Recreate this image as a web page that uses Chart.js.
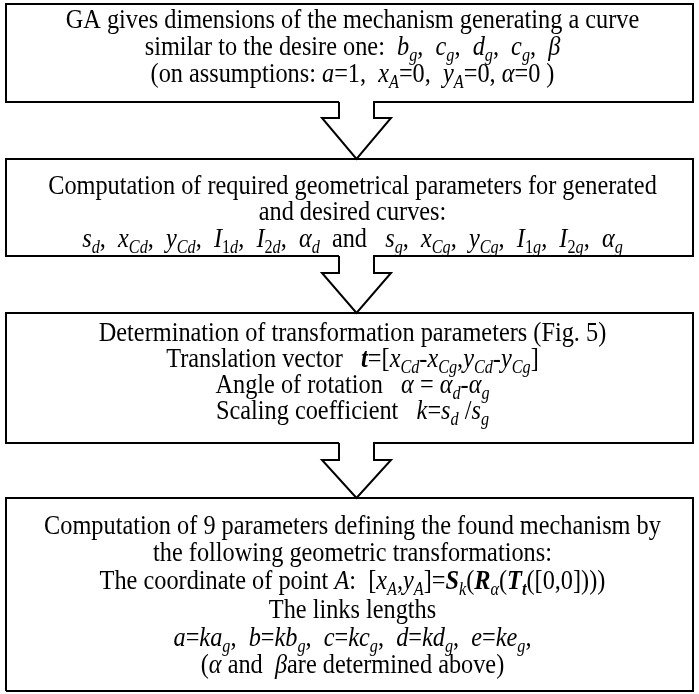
<!DOCTYPE html>
<html>
<head>
<meta charset="utf-8">
<script src="https://cdn.jsdelivr.net/npm/chart.js@4"></script>
<style>
  html, body { margin: 0; padding: 0; background: #fff; }
  canvas { display: block; background: #fff; }
</style>
</head>
<body>
<canvas id="flow" width="699" height="694"></canvas>
<script>
// box outlines (page units, y grows downwards)
const boxLeft = 6;
const boxRight = 693;
const boxTop = [4, 159, 313, 498];
const boxBottom = [102, 256, 443, 691];
// arrows between boxes
const arrowX = 356.5;
const stemHalf = 17.5;
const headHalf = 34.5;
const stemEnd = [118, 273, 460];

// text of each box, $...$ = math, _x subscript, \B{..} bold italic
const box1Lines = [
  "GA gives dimensions of the mechanism generating a curve",
  "similar to the desire one:  $b_g,  c_g,  d_g,  c_g,  β$",
  "(on assumptions: $a=1,  x_A=0,  y_A=0, α=0$ )"
];
const box2Lines = [
  "Computation of required geometrical parameters for generated",
  "and desired curves:",
  "$s_d,  x_{Cd},  y_{Cd},  I_{1d},  I_{2d},  α_d$  and   $s_g,  x_{Cg},  y_{Cg},  I_{1g},  I_{2g},  α_g$"
];
const box3Lines = [
  "Determination of transformation parameters (Fig. 5)",
  "Translation vector   $\\B{t}=[x_{Cd}-x_{Cg},y_{Cd}-y_{Cg}]$",
  "Angle of rotation   $α = α_d-α_g$",
  "Scaling coefficient   $k=s_d /s_g$"
];
const box4Lines = [
  "Computation of 9 parameters defining the found mechanism by",
  "the following geometric transformations:",
  "The coordinate of point $A$:  $[x_A,y_A]=\\B{S}_k(\\B{R}_α(\\B{T}_{\\B{t}}([0,0])))$",
  "The links lengths",
  "$a=ka_g,  b=kb_g,  c=kc_g,  d=kd_g,  e=ke_g,$",
  "($α$ and  $β$are determined above)"
];
const boxLines = [box1Lines, box2Lines, box3Lines, box4Lines];
const lineBase = [
  [28, 55, 82],
  [194, 220, 247],
  [341, 367, 393, 419],
  [534, 561, 589, 618, 646, 673]
];

const fontSize = 27;
const squeeze = 0.9;

// outline points for box k (with a gap where the arrow leaves it)
function boxPoints(k) {
  const t = boxTop[k], b = boxBottom[k];
  if (k >= stemEnd.length) {
    return [[boxLeft, b], [boxLeft, t], [boxRight, t], [boxRight, b], [boxLeft, b]];
  }
  const e = stemEnd[k], tip = boxTop[k + 1];
  return [
    [arrowX - stemHalf, b], [boxLeft, b], [boxLeft, t], [boxRight, t], [boxRight, b],
    [arrowX + stemHalf, b], [arrowX + stemHalf, e], [arrowX + headHalf, e],
    [arrowX, tip], [arrowX - headHalf, e], [arrowX - stemHalf, e], [arrowX - stemHalf, b]
  ];
}

const datasets = boxTop.map((_, k) => ({
  data: boxPoints(k).map(p => ({ x: p[0], y: p[1] })),
  showLine: true,
  borderColor: "#000",
  borderWidth: 2,
  pointRadius: 0,
  fill: false,
  tension: 0,
  clip: false
}));

// split one line into runs of {text, style, sub}
function parseLine(s) {
  const runs = [];
  const push = (ch, style, sub) => {
    const last = runs[runs.length - 1];
    if (last && last.style === style && last.sub === sub) last.text += ch;
    else runs.push({ text: ch, style, sub });
  };
  const readGroup = (str, i) => {
    if (str[i] !== "{") return [str[i], i + 1];
    let depth = 0, j = i;
    for (; j < str.length; j++) {
      if (str[j] === "{") depth++;
      else if (str[j] === "}") { depth--; if (depth === 0) break; }
    }
    return [str.slice(i + 1, j), j + 1];
  };
  const mathRuns = (str, sub, bold) => {
    for (let i = 0; i < str.length;) {
      const c = str[i];
      if (c === "_") {
        const [g, e] = readGroup(str, i + 1);
        mathRuns(g, true, bold);
        i = e;
        continue;
      }
      if (c === "\\" && str[i + 1] === "B") {
        const [g, e] = readGroup(str, i + 2);
        mathRuns(g, sub, true);
        i = e;
        continue;
      }
      const ital = /[A-Za-zα-ωΑ-Ω]/.test(c);
      push(c, bold ? "bi" : (ital ? "i" : "r"), sub);
      i++;
    }
  };
  s.split("$").forEach((part, idx) => {
    if (idx % 2 === 1) mathRuns(part, false, false);
    else for (const c of part) push(c, "r", false);
  });
  return runs;
}

function runFont(r) {
  const size = r.sub ? Math.round(fontSize * 0.68) : fontSize;
  const st = r.style === "i" ? "italic " : r.style === "bi" ? "italic bold " : "";
  return st + size + 'px "Liberation Serif", "Times New Roman", serif';
}

const textPlugin = {
  id: "boxText",
  afterDatasetsDraw(chart) {
    const { ctx, scales } = chart;
    const cx = scales.x.getPixelForValue((boxLeft + boxRight) / 2 + 3);
    ctx.save();
    ctx.fillStyle = "#000";
    ctx.textBaseline = "alphabetic";
    boxLines.forEach((lines, k) => {
      lines.forEach((line, j) => {
        const runs = parseLine(line);
        let w = 0;
        runs.forEach(r => { ctx.font = runFont(r); r.w = ctx.measureText(r.text).width; w += r.w; });
        const y = scales.y.getPixelForValue(lineBase[k][j]);
        ctx.save();
        ctx.translate(cx, y);
        ctx.scale(squeeze, 1);
        let x = -w / 2;
        runs.forEach(r => {
          ctx.font = runFont(r);
          ctx.fillText(r.text, x, r.sub ? fontSize * 0.22 : 0);
          x += r.w;
        });
        ctx.restore();
      });
    });
    ctx.restore();
  }
};

new Chart(document.getElementById("flow").getContext("2d"), {
  type: "scatter",
  data: { datasets },
  options: {
    responsive: false,
    animation: false,
    events: [],
    layout: { padding: 0 },
    plugins: { legend: { display: false }, tooltip: { enabled: false }, title: { display: false } },
    scales: {
      x: { type: "linear", min: 0, max: 699, display: false },
      y: { type: "linear", min: 0, max: 694, reverse: true, display: false }
    }
  },
  plugins: [textPlugin]
});
</script>
</body>
</html>
